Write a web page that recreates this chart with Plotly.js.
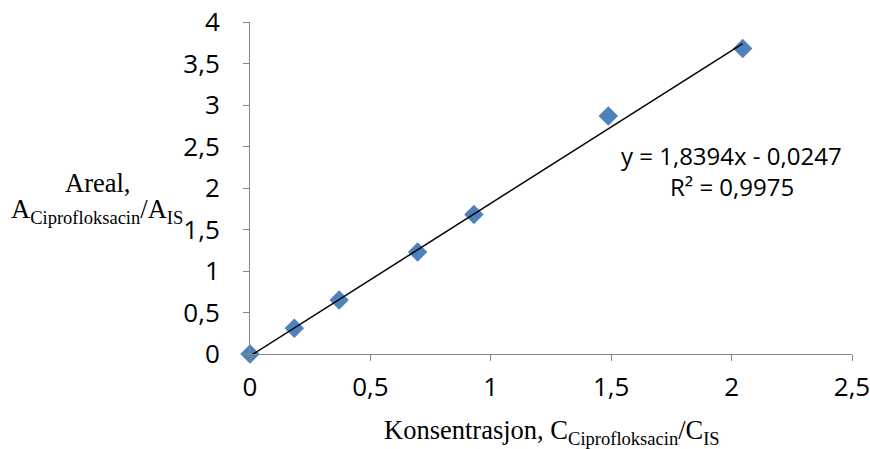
<!DOCTYPE html>
<html>
<head>
<meta charset="utf-8">
<script src="https://cdn.plot.ly/plotly-3.0.1.min.js"></script>
<style>html,body{margin:0;padding:0;background:#fff;}#chart{width:870px;height:449px;}</style>
</head>
<body>
<div id="chart"></div>
<script>
// Data
const concentration = [0, 0.184, 0.37, 0.696, 0.93, 1.488, 2.046];
const areaRatio = [0, 0.31, 0.65, 1.23, 1.68, 2.866, 3.68];
// Linear trendline endpoints (from y = 1,8394x - 0,0247)
const trendX = [0, 2.046];
const trendY = [-0.0247, 3.739];
const xTicks = [0, 0.5, 1, 1.5, 2, 2.5];
const yTicks = [0, 0.5, 1, 1.5, 2, 2.5, 3, 3.5, 4];
const equationLine1 = 'y = 1,8394x - 0,0247';
const equationLine2 = 'R² = 0,9975';
const xTitle = 'Konsentrasjon, C<sub>Ciprofloksacin</sub>/C<sub>IS</sub>';
const yTitleLine1 = 'Areal,';
const yTitleLine2 = 'A<sub>Ciprofloksacin</sub>/A<sub>IS</sub>';

const sans = 'Open Sans';
const tickFont = {family: sans, size: 26, color: '#000000'};
const eqFont = {family: sans, size: 24, color: '#000000'};
const serif = {family: 'Liberation Serif, Times New Roman, serif', size: 26.5, color: '#000'};

const traces = [
  {
    x: concentration, y: areaRatio, type: 'scatter', mode: 'markers',
    marker: {symbol: 'diamond', size: 15, color: '#4F81BD', line: {width: 0}},
    cliponaxis: false, hoverinfo: 'x+y'
  },
  {
    x: trendX, y: trendY, type: 'scatter', mode: 'lines',
    line: {color: '#000', width: 1.5}, cliponaxis: false, hoverinfo: 'skip'
  }
];

function ann(text, x, y, font) {
  return {text: text, xref: 'paper', yref: 'paper', x: x, y: y,
          xanchor: 'center', yanchor: 'middle', showarrow: false, font: font, align: 'center'};
}

const layout = {
  width: 870, height: 449,
  margin: {l: 250, r: 18, t: 22, b: 95},
  paper_bgcolor: '#fff', plot_bgcolor: '#fff',
  separators: ',.',
  showlegend: false,
  font: {family: sans, size: 21, color: '#000000'},
  xaxis: {
    range: [0, 2.5], tickmode: 'array', tickvals: xTicks, showgrid: false, zeroline: false,
    showline: true, linecolor: '#868686', linewidth: 1,
    ticks: 'outside', ticklen: 6, tickcolor: '#868686', tickwidth: 1,
    tickfont: tickFont, ticklabelstandoff: 4, ticklabeloverflow: 'allow'
  },
  yaxis: {
    range: [0, 4], tickmode: 'array', tickvals: yTicks, showgrid: false, zeroline: false,
    showline: true, linecolor: '#868686', linewidth: 1,
    ticks: 'outside', ticklen: 6, tickcolor: '#868686', tickwidth: 1,
    tickfont: tickFont, ticklabelstandoff: 18, ticklabeloverflow: 'allow'
  },
  annotations: [
    ann(yTitleLine1, -0.254, 0.516, serif),
    ann(yTitleLine2, -0.254, 0.43, serif),
    ann(xTitle, 0.501, -0.235, serif),
    ann(equationLine1, 0.80, 0.597, eqFont),
    ann(equationLine2, 0.80, 0.505, eqFont)
  ]
};

Plotly.newPlot('chart', traces, layout, {displayModeBar: false, staticPlot: true});
</script>
</body>
</html>
